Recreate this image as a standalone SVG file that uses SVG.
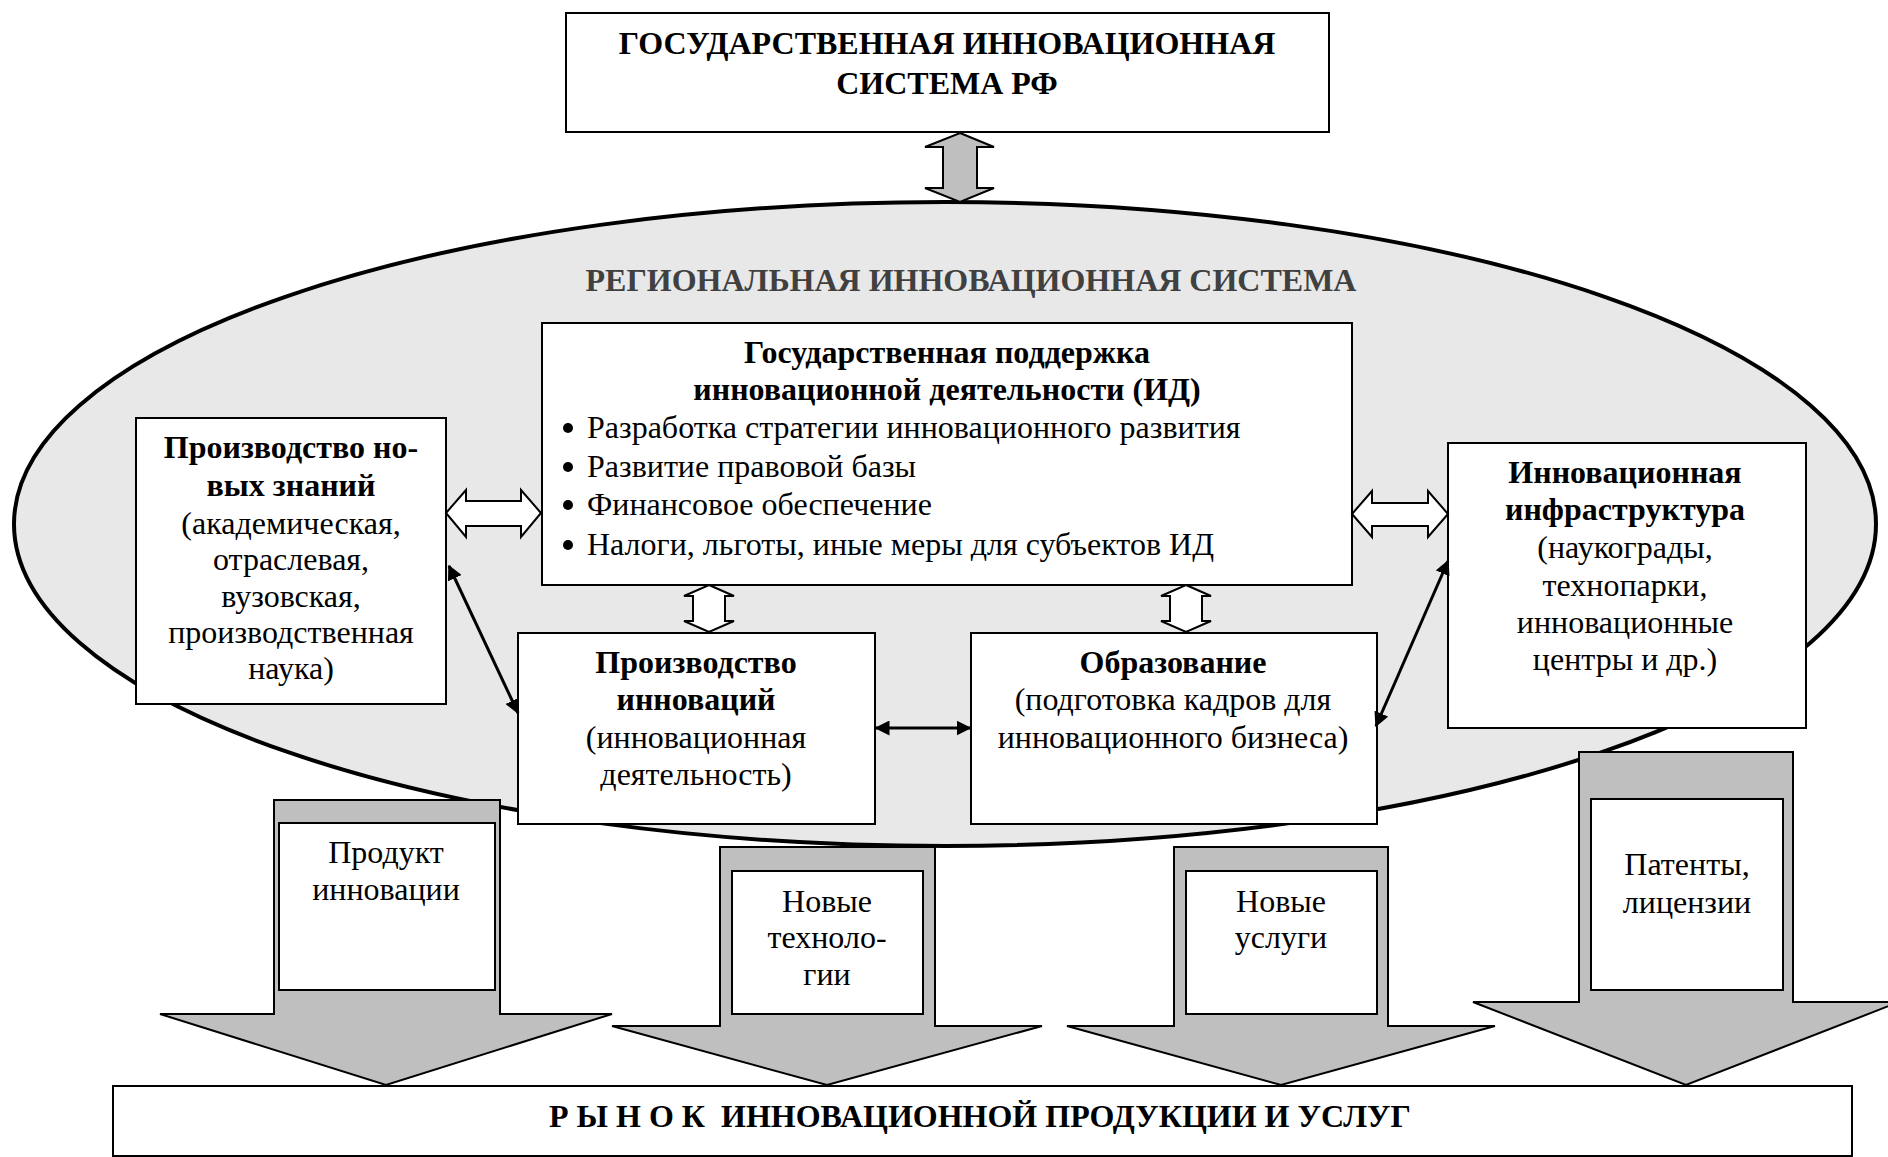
<svg xmlns="http://www.w3.org/2000/svg" width="1888" height="1157" viewBox="0 0 1888 1157">
<style>
text{font-family:"Liberation Serif","Times New Roman",serif;fill:#000;font-size:32px}
.t{text-anchor:middle}
.b{font-weight:bold}
.box{fill:#fff;stroke:#000;stroke-width:2}
.garrow{fill:#bfbfbf;stroke:#000;stroke-width:2}
.warrow{fill:#fff;stroke:#000;stroke-width:2}
.line{stroke:#000;stroke-width:3;fill:none;marker-start:url(#ah);marker-end:url(#ah)}
.dot{fill:#000}
</style>
<defs>
<marker id="ah" viewBox="0 0 10 10" refX="9" refY="5" markerWidth="5" markerHeight="5" orient="auto-start-reverse" markerUnits="strokeWidth">
<path d="M0,0 L10,5 L0,10 Z" fill="#000"/>
</marker>
</defs>
<rect width="1888" height="1157" fill="#fff"/>

<g id="region">
<ellipse cx="945" cy="524" rx="931" ry="322" fill="#e8e8e8" stroke="#000" stroke-width="4"/>
<text class="t b" x="971" y="291" style="fill:#404040">РЕГИОНАЛЬНАЯ ИННОВАЦИОННАЯ СИСТЕМА</text>
</g>

<g id="gos-rf">
<rect class="box" x="566" y="13" width="763" height="119"/>
<text class="t b" x="947" y="54">ГОСУДАРСТВЕННАЯ ИННОВАЦИОННАЯ</text>
<text class="t b" x="947" y="94">СИСТЕМА РФ</text>
</g>

<g id="gos-support">
<rect class="box" x="542" y="323" width="810" height="262"/>
<text class="t b" x="947" y="363">Государственная поддержка</text>
<text class="t b" x="947" y="400">инновационной деятельности (ИД)</text>
<circle class="dot" cx="568" cy="428" r="5"/>
<circle class="dot" cx="568" cy="467" r="5"/>
<circle class="dot" cx="568" cy="505" r="5"/>
<circle class="dot" cx="568" cy="545" r="5"/>
<text x="587" y="438">Разработка стратегии инновационного развития</text>
<text x="587" y="477">Развитие правовой базы</text>
<text x="587" y="515">Финансовое обеспечение</text>
<text x="587" y="555">Налоги, льготы, иные меры для субъектов ИД</text>
</g>

<g id="knowledge">
<rect class="box" x="136" y="418" width="310" height="286"/>
<text class="t b" x="291" y="458">Производство но-</text>
<text class="t b" x="291" y="496">вых знаний</text>
<text class="t" x="291" y="534">(академическая,</text>
<text class="t" x="291" y="570">отраслевая,</text>
<text class="t" x="291" y="607">вузовская,</text>
<text class="t" x="291" y="643">производственная</text>
<text class="t" x="291" y="679">наука)</text>
</g>

<g id="infra">
<rect class="box" x="1448" y="443" width="358" height="285"/>
<text class="t b" x="1625" y="483">Инновационная</text>
<text class="t b" x="1625" y="520">инфраструктура</text>
<text class="t" x="1625" y="558">(наукограды,</text>
<text class="t" x="1625" y="596">технопарки,</text>
<text class="t" x="1625" y="633">инновационные</text>
<text class="t" x="1625" y="670">центры и др.)</text>
</g>

<g id="innov-prod">
<rect class="box" x="518" y="633" width="357" height="191"/>
<text class="t b" x="696" y="673">Производство</text>
<text class="t b" x="696" y="710">инноваций</text>
<text class="t" x="696" y="748">(инновационная</text>
<text class="t" x="696" y="785">деятельность)</text>
</g>

<g id="education">
<rect class="box" x="971" y="633" width="406" height="191"/>
<text class="t b" x="1173" y="673">Образование</text>
<text class="t" x="1173" y="710">(подготовка кадров для</text>
<text class="t" x="1173" y="748">инновационного бизнеса)</text>
</g>

<g id="connectors">
<path class="garrow" d="M960,133 L994,147 L977,147 L977,188 L994,188 L960,202 L925,188 L943,188 L943,147 L925,147 Z"/>
<path class="warrow" d="M446,513 L466,490 L466,501 L521,501 L521,490 L541,513 L521,537 L521,526 L466,526 L466,537 Z"/>
<path class="warrow" d="M1352,514 L1372,491 L1372,503 L1428,503 L1428,491 L1448,514 L1428,537 L1428,526 L1372,526 L1372,537 Z"/>
<path class="warrow" d="M709,585 L734,596 L725,596 L725,621 L734,621 L709,632 L684,621 L693,621 L693,596 L684,596 Z"/>
<path class="warrow" d="M1186,585 L1211,596 L1202,596 L1202,621 L1211,621 L1186,632 L1161,621 L1170,621 L1170,596 L1161,596 Z"/>
<line class="line" x1="449" y1="566" x2="518" y2="713"/>
<line class="line" x1="1448" y1="561" x2="1376" y2="726"/>
<line class="line" x1="876" y1="728" x2="970" y2="728"/>
</g>

<g id="product">
<path class="garrow" d="M274,800 H500 V1014 H612 L386,1085 L160,1014 H274 Z"/>
<rect class="box" x="279" y="823" width="216" height="167"/>
<text class="t" x="386" y="863">Продукт</text>
<text class="t" x="386" y="900">инновации</text>
</g>

<g id="tech">
<path class="garrow" d="M720,847 H935 V1026 H1042 L827,1085 L612,1026 H720 Z"/>
<rect class="box" x="732" y="871" width="191" height="143"/>
<text class="t" x="827" y="912">Новые</text>
<text class="t" x="827" y="948">техноло-</text>
<text class="t" x="827" y="985">гии</text>
</g>

<g id="services">
<path class="garrow" d="M1174,847 H1388 V1026 H1495 L1281,1085 L1067,1026 H1174 Z"/>
<rect class="box" x="1186" y="871" width="191" height="143"/>
<text class="t" x="1281" y="912">Новые</text>
<text class="t" x="1281" y="948">услуги</text>
</g>

<g id="patents">
<path class="garrow" d="M1579,752 H1793 V1002 H1899 L1686,1085 L1473,1002 H1579 Z"/>
<rect class="box" x="1591" y="799" width="192" height="191"/>
<text class="t" x="1687" y="875">Патенты,</text>
<text class="t" x="1687" y="913">лицензии</text>
</g>

<g id="market">
<rect class="box" x="113" y="1086" width="1739" height="70"/>
<text class="t b" x="980" y="1127" xml:space="preserve">Р Ы Н О К  ИННОВАЦИОННОЙ ПРОДУКЦИИ И УСЛУГ</text>
</g>
</svg>
